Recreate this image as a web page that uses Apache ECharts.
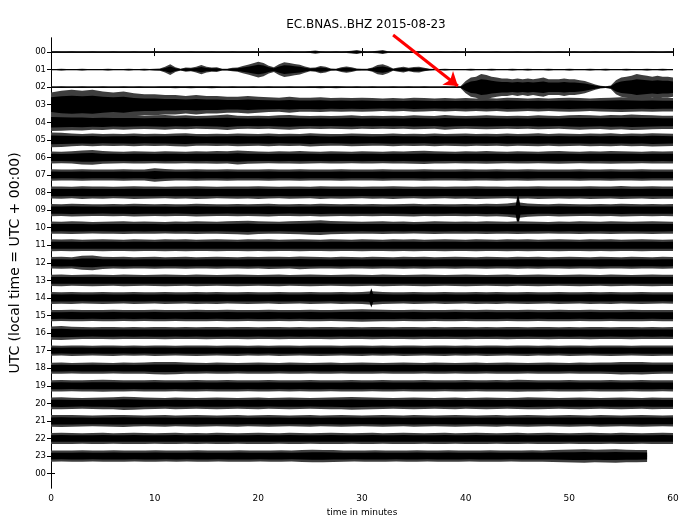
<!DOCTYPE html>
<html>
<head>
<meta charset="utf-8">
<script src="https://cdn.jsdelivr.net/npm/echarts@6/dist/echarts.min.js"></script>
<style>html,body{margin:0;padding:0;background:#fff}#chart{width:693px;height:523px}</style>
</head>
<body>
<div id="chart"></div>
<script>
// ---- chart text ----
const chartTitle = 'EC.BNAS..BHZ 2015-08-23';
const yAxisTitle = 'UTC (local time = UTC + 00:00)';
const xAxisTitle = 'time in minutes';
const hourLabels = ['00','01','02','03','04','05','06','07','08','09','10','11','12','13','14','15','16','17','18','19','20','21','22','23','00'];
const hourTicks = [0,1,2,3,4,5,6,7,8,9,10,11,12,13,14,15,16,17,18,19,20,21,22,23,24];
const minuteTicks = [0,10,20,30,40,50,60];

// ---- trace envelopes: half-amplitude (in row spacings), sampled evenly from 0 to traceEnd ----
const row00 = [0.04,0.05,0.04,0.04,0.05,0.04,0.04,0.04,0.05,0.04, 0.04,0.04,0.05,0.04,0.04,0.04,0.05,0.04,0.04,0.04,
 0.05,0.04,0.04,0.04,0.05,0.04,0.04,0.05,0.04,0.04, 0.04,0.05,0.04,0.04,0.04,0.05,0.04,0.04,0.04,0.05,
 0.04,0.04,0.05,0.04,0.04,0.04,0.05,0.04,0.04,0.04, 0.06,0.09,0.05,0.04,0.04,0.05,0.04,0.05,0.08,0.11,
 0.06,0.04,0.05,0.07,0.11,0.05,0.04,0.04,0.05,0.04, 0.04,0.05,0.04,0.04,0.04,0.05,0.04,0.04,0.05,0.04,
 0.04,0.04,0.05,0.04,0.04,0.04,0.05,0.04,0.04,0.04, 0.05,0.04,0.04,0.04,0.05,0.04,0.04,0.04,0.05,0.04,
 0.04,0.05,0.04,0.04,0.04,0.05,0.04,0.04,0.04,0.05, 0.04,0.04,0.05,0.04,0.04,0.04,0.05,0.04,0.04,0.05,0.05];
const row01 = [0.04,0.04,0.05,0.04,0.04,0.04,0.05,0.04,0.04,0.04, 0.04,0.05,0.04,0.04,0.04,0.05,0.04,0.04,0.05,0.04,
 0.05,0.06,0.16,0.30,0.14,0.05,0.12,0.10,0.16,0.26, 0.16,0.12,0.13,0.05,0.05,0.10,0.12,0.20,0.28,0.36,
 0.45,0.38,0.22,0.14,0.30,0.42,0.38,0.32,0.28,0.18, 0.10,0.12,0.20,0.16,0.07,0.05,0.14,0.18,0.14,0.07,
 0.05,0.05,0.12,0.26,0.30,0.20,0.07,0.12,0.16,0.10, 0.15,0.16,0.10,0.05,0.04,0.04,0.05,0.04,0.04,0.04,
 0.04,0.05,0.04,0.04,0.04,0.05,0.04,0.04,0.04,0.05, 0.04,0.04,0.05,0.04,0.04,0.04,0.05,0.04,0.04,0.04,
 0.05,0.04,0.04,0.04,0.05,0.04,0.04,0.05,0.04,0.04, 0.04,0.05,0.04,0.04,0.04,0.05,0.04,0.04,0.05,0.04,0.04];
const row02 = [0.04,0.04,0.05,0.04,0.04,0.04,0.05,0.04,0.04,0.04, 0.05,0.04,0.04,0.04,0.05,0.04,0.04,0.05,0.04,0.04,
 0.04,0.05,0.05,0.05,0.06,0.05,0.05,0.06,0.05,0.05, 0.05,0.06,0.05,0.04,0.04,0.05,0.04,0.04,0.04,0.05,
 0.04,0.04,0.05,0.04,0.04,0.04,0.05,0.04,0.04,0.04, 0.05,0.05,0.06,0.05,0.05,0.06,0.05,0.04,0.04,0.05,
 0.04,0.04,0.05,0.04,0.04,0.04,0.05,0.04,0.04,0.05, 0.04,0.04,0.05,0.04,0.04,0.04,0.05,0.04,0.05,0.05,
 0.35,0.55,0.60,0.75,0.70,0.60,0.55,0.50,0.50,0.45, 0.50,0.45,0.50,0.45,0.50,0.55,0.45,0.45,0.45,0.50,
 0.45,0.45,0.40,0.35,0.25,0.15,0.08,0.05,0.10,0.40, 0.55,0.60,0.65,0.75,0.70,0.65,0.60,0.65,0.60,0.60,0.55];
const row03 = [0.70,0.80,0.85,0.80,0.85,0.75,0.70,0.75,0.65,0.60, 0.60,0.55,0.55,0.50,0.55,0.50,0.50,0.45,0.45,0.50,
 0.45,0.42,0.40,0.45,0.40,0.40,0.42,0.38,0.40,0.38, 0.40,0.38,0.36,0.38,0.36,0.40,0.38,0.36,0.38,0.36,
 0.38,0.36,0.38,0.36,0.40,0.38,0.36,0.38,0.36,0.38, 0.40,0.38,0.36,0.38,0.40,0.42,0.40,0.38,0.40,0.38,0.38];
const row04 = [0.50,0.48,0.45,0.46,0.42,0.44,0.40,0.42,0.40,0.38, 0.40,0.42,0.38,0.40,0.36,0.38,0.40,0.44,0.38,0.36,
 0.38,0.36,0.40,0.42,0.38,0.36,0.38,0.36,0.38,0.40, 0.36,0.38,0.36,0.38,0.36,0.40,0.38,0.36,0.42,0.38,
 0.36,0.38,0.40,0.38,0.36,0.38,0.36,0.40,0.38,0.36, 0.40,0.42,0.40,0.38,0.42,0.40,0.44,0.42,0.40,0.38,0.38];
const row05 = [0.42,0.40,0.36,0.34,0.36,0.33,0.35,0.34,0.36,0.33, 0.35,0.34,0.36,0.38,0.34,0.33,0.35,0.34,0.36,0.35,
 0.34,0.36,0.33,0.35,0.34,0.38,0.35,0.33,0.34,0.36, 0.35,0.33,0.34,0.36,0.34,0.35,0.33,0.36,0.34,0.35,
 0.36,0.34,0.35,0.33,0.36,0.34,0.35,0.37,0.34,0.36, 0.35,0.34,0.36,0.35,0.37,0.34,0.36,0.35,0.38,0.36,0.35];
const row06 = [0.34,0.33,0.35,0.40,0.42,0.36,0.34,0.33,0.35,0.34, 0.33,0.35,0.34,0.33,0.35,0.34,0.36,0.35,0.40,0.36,
 0.34,0.33,0.35,0.34,0.36,0.34,0.33,0.35,0.34,0.33, 0.35,0.34,0.33,0.35,0.34,0.36,0.38,0.35,0.34,0.33,
 0.35,0.34,0.36,0.34,0.33,0.35,0.34,0.33,0.35,0.36, 0.34,0.33,0.35,0.34,0.36,0.35,0.34,0.33,0.35,0.34,0.35];
const row07 = [0.33,0.32,0.31,0.33,0.32,0.31,0.32,0.33,0.31,0.32, 0.38,0.34,0.32,0.31,0.33,0.32,0.31,0.33,0.32,0.31,
 0.32,0.33,0.31,0.32,0.33,0.31,0.32,0.31,0.33,0.32, 0.31,0.32,0.33,0.31,0.32,0.31,0.33,0.32,0.31,0.32,
 0.33,0.31,0.32,0.33,0.31,0.32,0.33,0.31,0.32,0.31, 0.32,0.33,0.31,0.32,0.33,0.31,0.32,0.33,0.32,0.31,0.32];
const row08 = [0.34,0.35,0.33,0.36,0.34,0.35,0.33,0.34,0.36,0.35, 0.34,0.33,0.35,0.34,0.36,0.35,0.33,0.34,0.35,0.34,
 0.36,0.34,0.33,0.35,0.34,0.33,0.36,0.34,0.35,0.34, 0.33,0.35,0.34,0.36,0.34,0.33,0.35,0.34,0.33,0.35,
 0.34,0.36,0.35,0.34,0.33,0.35,0.34,0.36,0.35,0.34, 0.35,0.34,0.36,0.35,0.34,0.37,0.35,0.34,0.36,0.35,0.35];
const row09 = [0.35,0.34,0.36,0.35,0.34,0.33,0.35,0.34,0.36,0.35, 0.34,0.35,0.33,0.34,0.36,0.35,0.34,0.33,0.35,0.34,
 0.35,0.36,0.34,0.33,0.35,0.34,0.36,0.35,0.34,0.35, 0.34,0.35,0.33,0.34,0.35,0.36,0.34,0.35,0.34,0.33,
 0.35,0.34,0.36,0.35,0.38,0.45,0.38,0.35,0.34,0.36, 0.35,0.34,0.33,0.35,0.34,0.36,0.35,0.34,0.35,0.34,0.35];
const row10 = [0.35,0.34,0.36,0.35,0.33,0.34,0.35,0.36,0.34,0.35, 0.34,0.33,0.35,0.34,0.36,0.35,0.34,0.36,0.38,0.40,
 0.36,0.35,0.34,0.36,0.38,0.40,0.42,0.38,0.36,0.35, 0.34,0.35,0.36,0.34,0.35,0.33,0.34,0.36,0.35,0.34,
 0.35,0.34,0.36,0.35,0.34,0.36,0.35,0.34,0.33,0.35, 0.34,0.36,0.35,0.34,0.36,0.35,0.34,0.35,0.36,0.35,0.34];
const row11 = [0.34,0.33,0.34,0.32,0.33,0.34,0.33,0.32,0.34,0.33, 0.32,0.34,0.33,0.34,0.32,0.33,0.34,0.33,0.32,0.34,
 0.33,0.34,0.32,0.33,0.34,0.33,0.32,0.34,0.33,0.32, 0.34,0.33,0.32,0.34,0.33,0.34,0.32,0.33,0.34,0.33,
 0.32,0.34,0.33,0.32,0.34,0.33,0.34,0.32,0.33,0.34, 0.33,0.32,0.34,0.33,0.34,0.32,0.33,0.34,0.33,0.32,0.33];
const row12 = [0.33,0.34,0.32,0.40,0.42,0.35,0.33,0.34,0.32,0.33, 0.34,0.32,0.33,0.34,0.32,0.33,0.34,0.33,0.32,0.34,
 0.33,0.35,0.34,0.33,0.36,0.34,0.33,0.32,0.34,0.33, 0.32,0.34,0.33,0.32,0.34,0.33,0.34,0.32,0.33,0.34,
 0.33,0.32,0.34,0.33,0.32,0.34,0.33,0.34,0.32,0.33, 0.34,0.33,0.32,0.34,0.33,0.32,0.34,0.33,0.32,0.34,0.33];
const row13 = [0.32,0.33,0.31,0.32,0.33,0.32,0.31,0.33,0.32,0.31, 0.32,0.33,0.32,0.31,0.33,0.32,0.31,0.32,0.33,0.32,
 0.31,0.32,0.33,0.31,0.32,0.33,0.32,0.31,0.32,0.33, 0.32,0.31,0.33,0.32,0.31,0.32,0.33,0.32,0.31,0.32,
 0.33,0.32,0.31,0.32,0.33,0.31,0.32,0.33,0.32,0.31, 0.32,0.33,0.32,0.31,0.33,0.32,0.31,0.32,0.33,0.32,0.32];
const row14 = [0.34,0.33,0.34,0.32,0.33,0.34,0.33,0.32,0.34,0.33, 0.32,0.34,0.33,0.32,0.34,0.33,0.34,0.32,0.33,0.34,
 0.33,0.32,0.34,0.33,0.32,0.34,0.33,0.32,0.34,0.33, 0.34,0.38,0.34,0.33,0.32,0.34,0.33,0.32,0.34,0.33,
 0.32,0.34,0.33,0.34,0.32,0.33,0.34,0.33,0.32,0.34, 0.33,0.32,0.34,0.33,0.34,0.32,0.33,0.34,0.33,0.32,0.33];
const row15 = [0.32,0.31,0.33,0.32,0.31,0.32,0.33,0.31,0.32,0.31, 0.33,0.32,0.31,0.32,0.33,0.32,0.31,0.33,0.32,0.31,
 0.32,0.33,0.31,0.32,0.31,0.33,0.32,0.31,0.33,0.34, 0.35,0.34,0.33,0.32,0.31,0.33,0.32,0.31,0.32,0.33,
 0.31,0.32,0.33,0.32,0.31,0.32,0.33,0.31,0.32,0.33, 0.32,0.31,0.33,0.32,0.31,0.32,0.33,0.32,0.31,0.32,0.32];
const row16 = [0.38,0.40,0.36,0.34,0.33,0.34,0.35,0.33,0.34,0.33, 0.34,0.35,0.33,0.34,0.33,0.35,0.34,0.33,0.34,0.35,
 0.33,0.34,0.35,0.33,0.34,0.33,0.34,0.35,0.33,0.34, 0.33,0.35,0.34,0.33,0.34,0.35,0.33,0.34,0.33,0.34,
 0.35,0.33,0.34,0.33,0.35,0.34,0.33,0.34,0.35,0.33, 0.34,0.33,0.35,0.34,0.33,0.34,0.35,0.33,0.34,0.33,0.34];
const row17 = [0.29,0.28,0.30,0.29,0.28,0.29,0.30,0.28,0.29,0.28, 0.30,0.29,0.28,0.29,0.30,0.29,0.28,0.29,0.30,0.28,
 0.29,0.28,0.30,0.29,0.28,0.29,0.30,0.29,0.28,0.29, 0.30,0.28,0.29,0.28,0.30,0.29,0.28,0.29,0.30,0.28,
 0.29,0.28,0.30,0.29,0.28,0.29,0.30,0.28,0.29,0.28, 0.30,0.29,0.28,0.29,0.30,0.29,0.28,0.29,0.30,0.29,0.29];
const row18 = [0.31,0.32,0.30,0.31,0.32,0.31,0.30,0.32,0.31,0.32, 0.35,0.36,0.35,0.32,0.31,0.30,0.32,0.31,0.30,0.31,
 0.32,0.31,0.30,0.32,0.31,0.30,0.31,0.32,0.30,0.31, 0.32,0.31,0.30,0.31,0.32,0.31,0.30,0.32,0.31,0.30,
 0.31,0.32,0.30,0.31,0.32,0.31,0.30,0.31,0.32,0.31, 0.30,0.32,0.31,0.32,0.33,0.36,0.35,0.36,0.33,0.32,0.32];
const row19 = [0.32,0.33,0.31,0.32,0.33,0.34,0.33,0.32,0.31,0.32, 0.33,0.32,0.31,0.32,0.33,0.31,0.32,0.33,0.32,0.31,
 0.32,0.33,0.31,0.32,0.31,0.33,0.32,0.31,0.32,0.33, 0.32,0.31,0.33,0.32,0.31,0.32,0.33,0.32,0.31,0.32,
 0.33,0.31,0.32,0.33,0.32,0.34,0.33,0.32,0.31,0.32, 0.33,0.32,0.31,0.32,0.33,0.32,0.31,0.33,0.32,0.31,0.32];
const row20 = [0.33,0.34,0.32,0.31,0.32,0.33,0.34,0.38,0.36,0.33, 0.32,0.31,0.33,0.32,0.31,0.32,0.33,0.32,0.31,0.32,
 0.33,0.31,0.32,0.33,0.32,0.31,0.32,0.33,0.34,0.36, 0.35,0.33,0.32,0.31,0.32,0.33,0.32,0.31,0.32,0.33,
 0.31,0.32,0.33,0.32,0.31,0.32,0.34,0.33,0.32,0.31, 0.32,0.33,0.32,0.31,0.32,0.33,0.32,0.31,0.33,0.32,0.32];
const row21 = [0.33,0.34,0.33,0.32,0.31,0.32,0.33,0.34,0.32,0.31, 0.32,0.33,0.31,0.32,0.33,0.32,0.31,0.32,0.33,0.31,
 0.32,0.33,0.32,0.31,0.32,0.33,0.31,0.32,0.33,0.32, 0.31,0.32,0.33,0.32,0.31,0.33,0.32,0.31,0.32,0.33,
 0.32,0.31,0.32,0.33,0.31,0.32,0.33,0.32,0.31,0.32, 0.33,0.32,0.31,0.33,0.32,0.31,0.32,0.33,0.32,0.31,0.32];
const row22 = [0.31,0.32,0.31,0.30,0.31,0.32,0.30,0.31,0.32,0.31, 0.30,0.31,0.32,0.30,0.31,0.30,0.32,0.31,0.30,0.31,
 0.32,0.31,0.30,0.32,0.31,0.30,0.31,0.32,0.31,0.30, 0.31,0.32,0.30,0.31,0.32,0.31,0.30,0.31,0.32,0.30,
 0.31,0.32,0.31,0.30,0.31,0.32,0.30,0.31,0.32,0.31, 0.30,0.31,0.32,0.31,0.30,0.32,0.31,0.30,0.31,0.32,0.31];
const row23 = [0.32,0.31,0.32,0.33,0.31,0.32,0.33,0.32,0.31,0.32, 0.33,0.31,0.32,0.31,0.33,0.32,0.31,0.32,0.33,0.32,
 0.31,0.32,0.33,0.31,0.34,0.36,0.35,0.34,0.32,0.31, 0.32,0.33,0.32,0.31,0.32,0.33,0.31,0.32,0.33,0.32,
 0.31,0.32,0.33,0.32,0.31,0.32,0.33,0.32,0.34,0.36, 0.37,0.38,0.36,0.37,0.38,0.36,0.35,0.34];
const traceEnd = [60,60,60,60,60,60,60,60,60,60,60,60,60,60,60,60,60,60,60,60,60,60,60,57.5];
// isolated short events: [row, minute, half-amplitude]
const spikes = [[9, 45.05, 1.0], [14, 30.9, 0.55]];
// red arrow annotation: [minute, row]
const arrowFrom = [33.0, -0.97];
const arrowTo = [39.25, 1.93];

const rowAmps = [row00,row01,row02,row03,row04,row05,row06,row07,row08,row09,row10,row11,
  row12,row13,row14,row15,row16,row17,row18,row19,row20,row21,row22,row23];

const FONT = 'DejaVu Sans';
const coreRatio = 0.6;

function renderRow(params, api) {
  const r = api.value(1);
  const amps = rowAmps[r];
  const end = traceEnd[r];
  const step = end / (amps.length - 1);
  const upO = [], loO = [], upI = [], loI = [];
  for (let i = 0; i < amps.length; i++) {
    const t = i * step, a = amps[i];
    upO.push(api.coord([t, r - a]));
    loO.push(api.coord([t, r + a]));
    upI.push(api.coord([t, r - a * coreRatio]));
    loI.push(api.coord([t, r + a * coreRatio]));
  }
  const children = [
    { type: 'polygon', shape: { points: upO.concat(loO.reverse()) }, style: { fill: '#3e3e3e' } },
    { type: 'polygon', shape: { points: upI.concat(loI.reverse()) }, style: { fill: '#000' } },
    { type: 'polyline', shape: { points: [api.coord([0, r]), api.coord([end, r])] }, style: { stroke: '#000', lineWidth: 1, fill: null } }
  ];
  spikes.filter(s => s[0] === r).forEach(s => {
    const [, t, a] = s;
    children.push({ type: 'polygon', shape: { points: [
      api.coord([t - 0.3, r]), api.coord([t, r - a]), api.coord([t + 0.3, r]), api.coord([t, r + a])
    ] }, style: { fill: '#000' } });
  });
  return { type: 'group', children };
}

const axisLineStyle = { show: true, lineStyle: { color: '#000', width: 1 } };
const chart = echarts.init(document.getElementById('chart'), null, { renderer: 'canvas' });
chart.setOption({
  animation: false,
  backgroundColor: '#fff',
  title: {
    text: chartTitle, left: 361, top: 14, textAlign: 'center',
    textStyle: { fontFamily: FONT, fontSize: 12, fontWeight: 'normal', color: '#000' }
  },
  grid: { left: 49, right: 20, top: 38, bottom: 35, containLabel: false },
  xAxis: [
    {
      type: 'value', min: 0, max: 60, interval: 10, position: 'bottom',
      name: xAxisTitle, nameLocation: 'middle', nameGap: 19,
      nameTextStyle: { fontFamily: FONT, fontSize: 9, color: '#000' },
      axisLine: axisLineStyle,
      axisTick: { show: true, inside: true, length: 4, lineStyle: { color: '#000' } },
      axisLabel: { fontFamily: FONT, fontSize: 9, color: '#000', margin: 6 },
      splitLine: { show: false }
    },
    {
      type: 'value', min: 0, max: 60, interval: 10, position: 'top',
      axisLine: axisLineStyle,
      axisTick: { show: true, inside: true, length: 4, lineStyle: { color: '#000' } },
      axisLabel: { show: false }, splitLine: { show: false }
    }
  ],
  yAxis: [
    {
      type: 'value', inverse: true, min: -0.8, max: 24.82, position: 'left',
      name: yAxisTitle, nameLocation: 'middle', nameGap: 29, nameRotate: 90,
      nameTextStyle: { fontFamily: FONT, fontSize: 14, color: '#000' },
      axisLine: axisLineStyle,
      axisTick: { show: true, inside: true, length: 4, customValues: hourTicks, lineStyle: { color: '#000' } },
      axisLabel: { fontFamily: FONT, fontSize: 8.5, color: '#000', margin: 5, customValues: hourTicks,
        formatter: v => hourLabels[Math.round(v)] },
      splitLine: { show: false }
    },
    {
      type: 'value', inverse: true, min: -0.8, max: 24.82, position: 'right',
      axisLine: axisLineStyle,
      axisTick: { show: true, inside: true, length: 4, customValues: hourTicks, lineStyle: { color: '#000' } },
      axisLabel: { show: false }, splitLine: { show: false }
    }
  ],
  series: [
    {
      type: 'custom', xAxisIndex: 0, yAxisIndex: 0,
      renderItem: renderRow,
      encode: { x: 0, y: 1 },
      data: rowAmps.map((_, r) => [0, r]),
      silent: true
    },
    {
      type: 'lines', coordinateSystem: 'cartesian2d', xAxisIndex: 0, yAxisIndex: 0,
      clip: false, z: 10, silent: true,
      symbol: ['none', 'arrow'], symbolSize: 13,
      lineStyle: { color: '#ff0000', width: 3, opacity: 1, curveness: 0 },
      data: [{ coords: [arrowFrom, arrowTo] }]
    }
  ]
});
</script>
</body>
</html>
